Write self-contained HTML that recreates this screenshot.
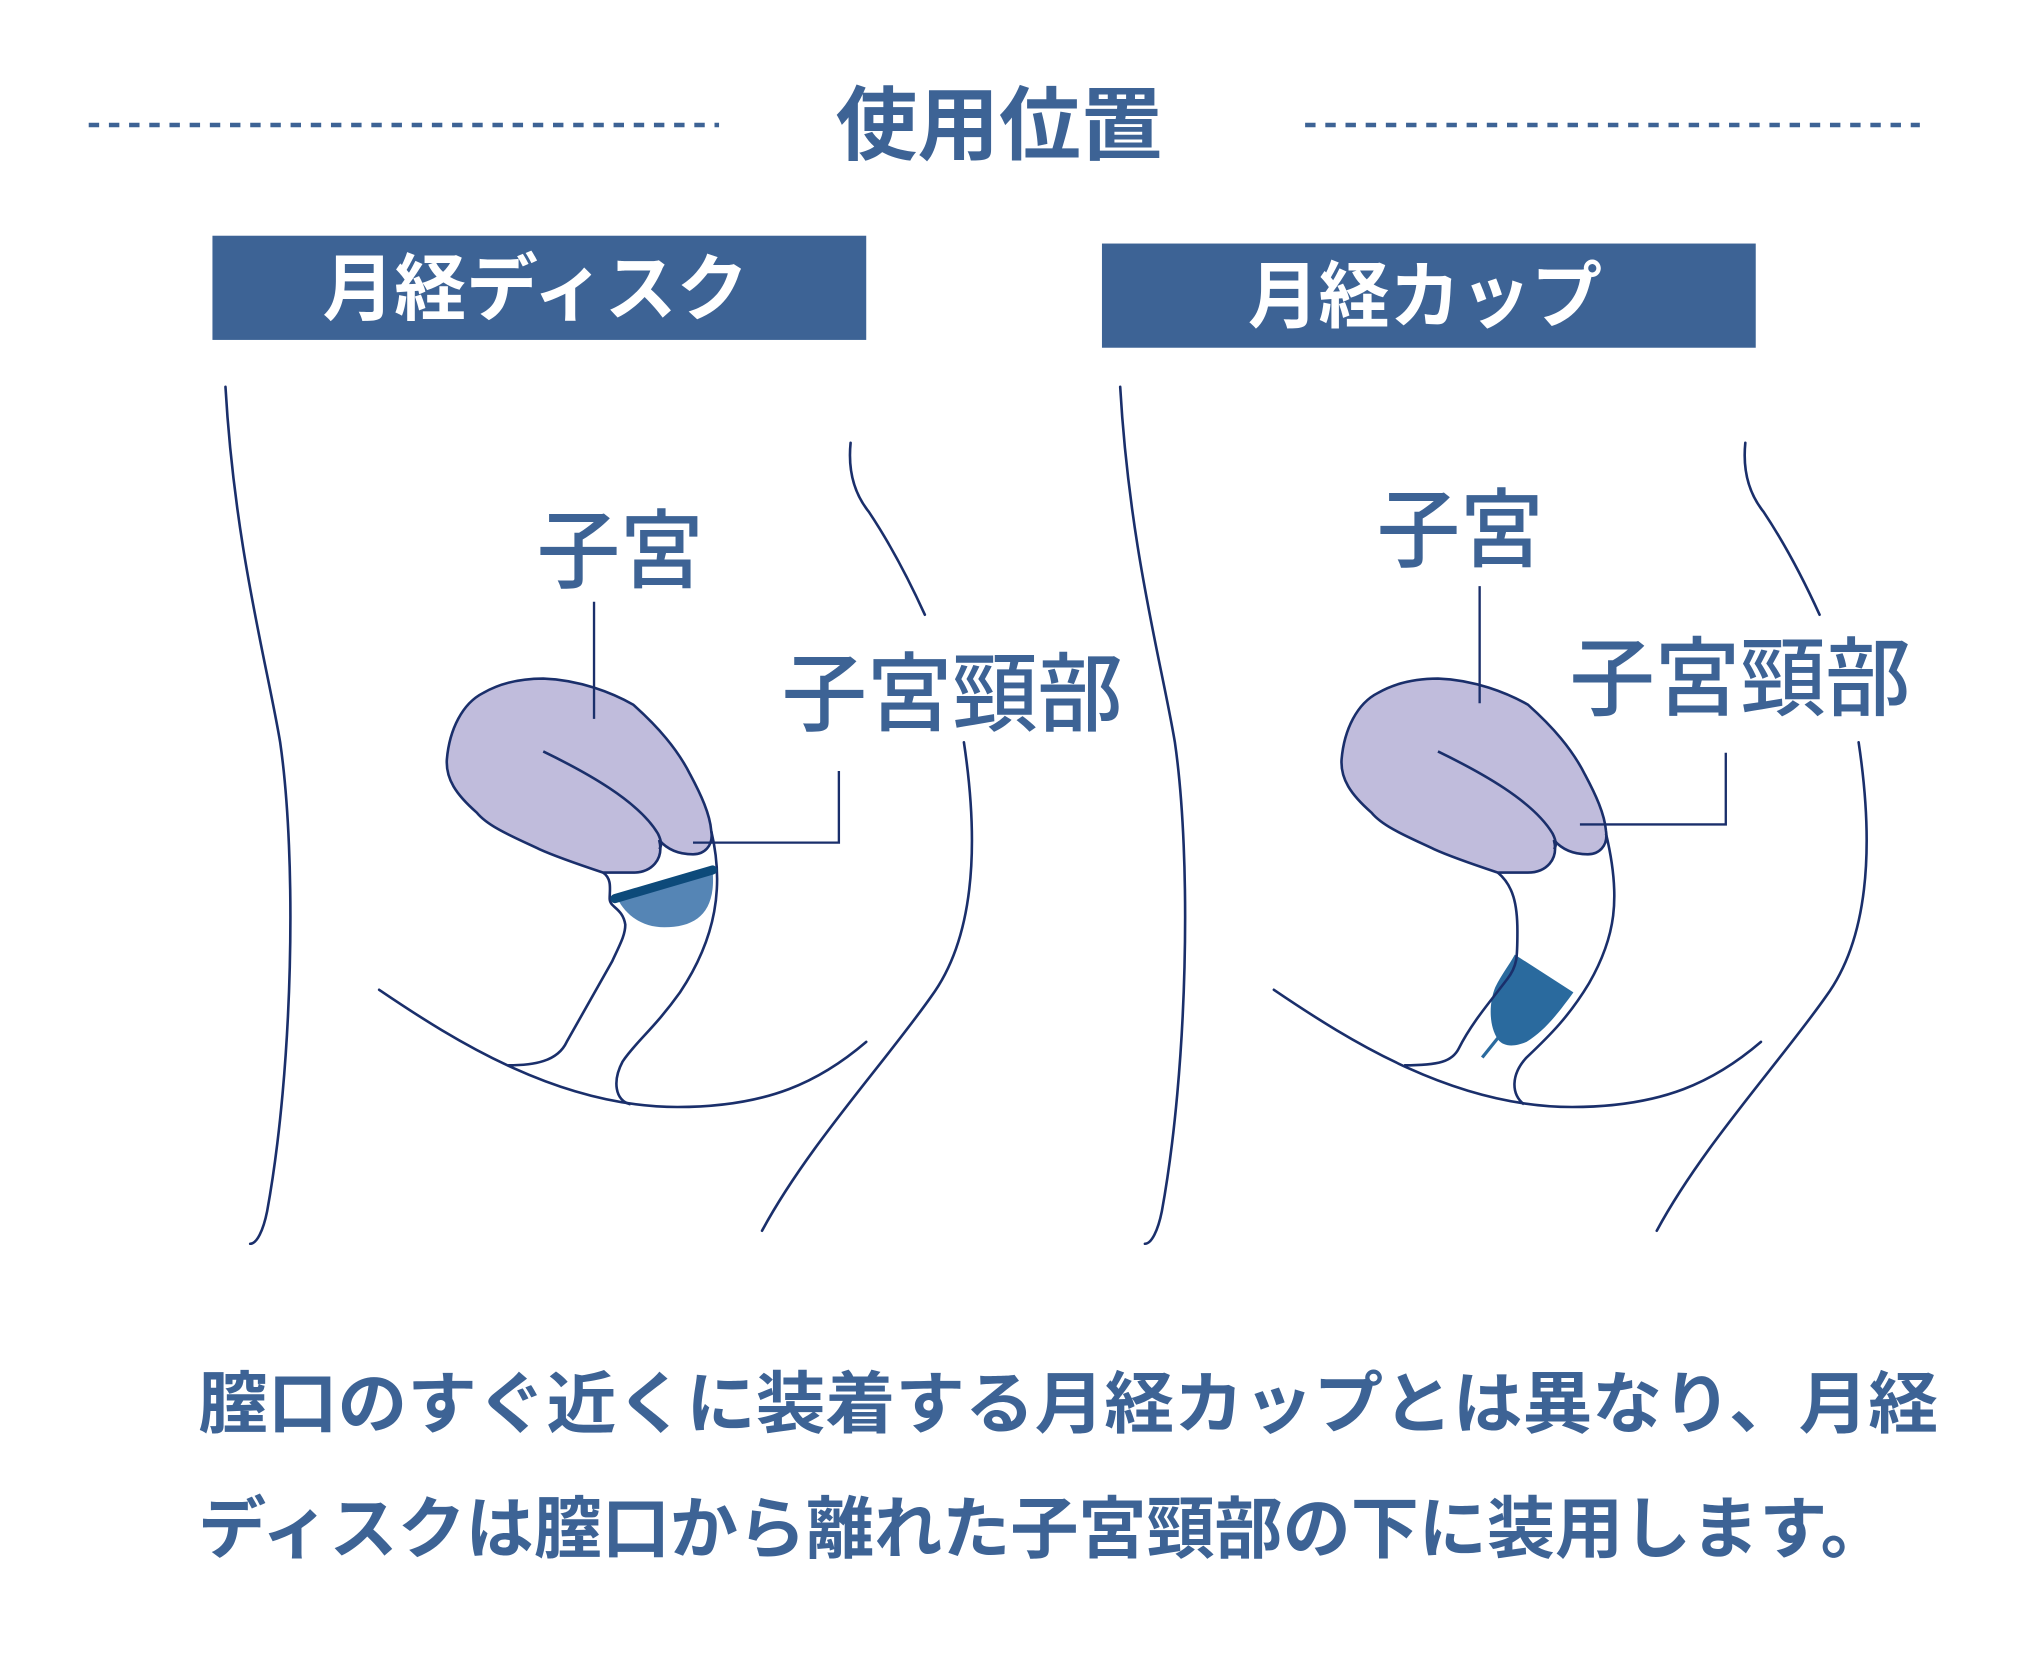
<!DOCTYPE html>
<html><head><meta charset="utf-8">
<style>
html,body{margin:0;padding:0;background:#fff;}
svg{display:block;}
text{font-family:"Liberation Sans","Noto Sans CJK JP",sans-serif;}
</style></head>
<body>
<svg width="2032" height="1654" viewBox="0 0 1560 1270" xmlns="http://www.w3.org/2000/svg">
<rect width="1560" height="1270" fill="#fff"/>
<!-- title -->
<line x1="68" y1="96" x2="552" y2="96" stroke="#3d6395" stroke-width="3.5" stroke-dasharray="8 7.5"/>
<line x1="1002" y1="96" x2="1474" y2="96" stroke="#3d6395" stroke-width="3.5" stroke-dasharray="8 7.5"/>
<text x="767" y="118" font-size="62" font-weight="bold" fill="#3d6395" text-anchor="middle" textLength="251" lengthAdjust="spacingAndGlyphs">使用位置</text>
<!-- boxes -->
<rect x="163" y="181" width="502" height="80" fill="#3d6395"/>
<text x="411" y="241" font-size="56" font-weight="bold" fill="#fff" text-anchor="middle" textLength="327" lengthAdjust="spacingAndGlyphs">月経ディスク</text>
<rect x="846" y="187" width="502" height="80" fill="#3d6395"/>
<text x="1094" y="247" font-size="56" font-weight="bold" fill="#fff" text-anchor="middle" textLength="272" lengthAdjust="spacingAndGlyphs">月経カップ</text>

<g fill="none" stroke="#1a2f6b" stroke-width="2" stroke-linecap="round">
<path d="M173,297 C180,420 205,510 215,570 C228,660 225,820 205,930 C202,945 197,955 192,955"/>
<path d="M653,340 C651,360 655,378 667,393 C685,420 700,450 710,472"/>
<path d="M740,570 C752,650 748,720 715,765 C680,815 620,880 585,945"/>
<path d="M291,760 C350,800 430,850 520,850 C590,850 630,830 665,800"/>
<path d="M860,297 C867,420 892,510 902,570 C915,660 912,820 892,930 C889,945 884,955 879,955"/>
<path d="M1340,340 C1338,360 1342,378 1354,393 C1372,420 1387,450 1397,472"/>
<path d="M1427,570 C1439,650 1435,720 1402,765 C1367,815 1307,880 1272,945"/>
<path d="M978,760 C1037,800 1117,850 1207,850 C1277,850 1317,830 1352,800"/>
</g>

<!-- left uterus -->
<g stroke="#1a2f6b" stroke-width="2" fill="none">
<path d="M417,521 C445,522 470,532 486,541 C505,558 520,575 530,595 C538,610 545,625 546,638 C548,650 540,656 532,656 C520,656 512,652 506,645 C510,660 500,670 486,670 L463,670 C445,664 425,657 414,652 C395,643 375,635 366,624 C350,610 342,598 343,583 C345,560 355,540 371,532 C385,524 400,521 417,521 Z" fill="#c0bcdc"/>
<path d="M417,577 C450,593 490,615 505,640 C508,646 508,650 506,652"/>
<path d="M463,670 C470,675 468,683 468,690 C468,697 478,697 480,710 C480,718 476,725 470,738 L435,800 C428,815 410,818 390,818"/>
<path d="M546,638 C556,680 550,720 522,762 C502,790 488,800 478,815 C470,830 472,845 484,848"/>
</g>
<path d="M474,690 L547,668 C550,700 535,712 510,712 C492,712 480,702 474,690 Z" fill="#5585b5"/>
<line x1="472" y1="690" x2="547" y2="668" stroke="#0d4a7a" stroke-width="7" stroke-linecap="round"/>

<!-- right uterus -->
<g stroke="#1a2f6b" stroke-width="2" fill="none">
<path d="M1104,521 C1132,522 1157,532 1173,541 C1192,558 1207,575 1217,595 C1225,610 1232,625 1233,638 C1235,650 1227,656 1219,656 C1207,656 1199,652 1193,645 C1197,660 1187,670 1173,670 L1150,670 C1132,664 1112,657 1101,652 C1082,643 1062,635 1053,624 C1037,610 1029,598 1030,583 C1032,560 1042,540 1058,532 C1072,524 1087,521 1104,521 Z" fill="#c0bcdc"/>
<path d="M1104,577 C1137,593 1177,615 1192,640 C1195,646 1195,650 1193,652"/>
</g>
<path d="M1163,733 L1208,762 C1195,780 1185,792 1172,800 C1165,803 1155,805 1150,798 C1143,788 1143,770 1148,758 C1153,748 1158,742 1163,733 Z" fill="#2a6a9e"/>
<line x1="1150" y1="797" x2="1138" y2="812" stroke="#2a6a9e" stroke-width="2.5"/>
<g stroke="#1a2f6b" stroke-width="2" fill="none">
<path d="M1150,670 C1162,680 1165,695 1165,715 C1165,735 1165,742 1157,752 C1145,768 1130,785 1120,805 C1115,815 1105,818 1078,818"/>
<path d="M1233,640 C1245,690 1240,720 1220,755 C1205,780 1190,795 1172,812 C1160,825 1160,840 1170,848"/>
</g>

<!-- leaders -->
<g stroke="#1a2f6b" stroke-width="1.8" fill="none">
<path d="M456,462 L456,552"/>
<path d="M644,592 L644,647 L532,647"/>
<path d="M1136,450 L1136,540"/>
<path d="M1325,578 L1325,633 L1213,633"/>
</g>

<!-- labels -->
<g fill="#3d6395" font-size="66" font-weight="500">
<text x="412" y="446" textLength="128" lengthAdjust="spacingAndGlyphs">子宮</text>
<text x="600" y="556" textLength="262" lengthAdjust="spacingAndGlyphs">子宮頸部</text>
<text x="1057" y="430" textLength="128" lengthAdjust="spacingAndGlyphs">子宮</text>
<text x="1205" y="544" textLength="262" lengthAdjust="spacingAndGlyphs">子宮頸部</text>
</g>

<!-- paragraph -->
<g fill="#3d6395" font-size="52" font-weight="bold">
<text x="152" y="1096" textLength="1336" lengthAdjust="spacingAndGlyphs">膣口のすぐ近くに装着する月経カップとは異なり、月経</text>
<text x="152" y="1192" textLength="1298" lengthAdjust="spacingAndGlyphs">ディスクは膣口から離れた子宮頸部の下に装用します。</text>
</g>
</svg>
</body></html>
